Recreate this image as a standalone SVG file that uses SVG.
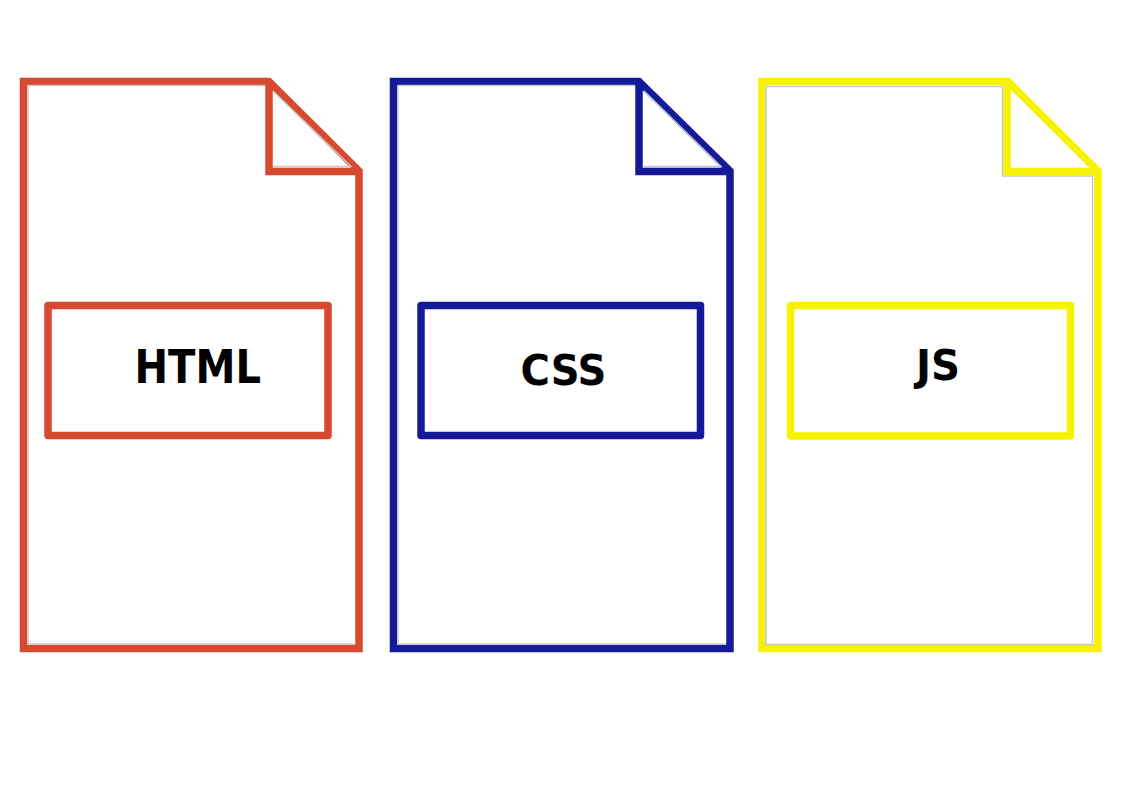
<svg xmlns="http://www.w3.org/2000/svg" width="1123" height="794" viewBox="0 0 1123 794">
<style>
.g{fill:none;stroke:#c8c8c8;stroke-width:1.5}
.o{fill:#fff;stroke-width:7.500;stroke-linejoin:miter}
.f{fill:none;stroke-width:7.500;stroke-linejoin:miter}
.l{fill:none;stroke-width:7.500;stroke-linejoin:round}
.t{font-family:"DejaVu Sans",sans-serif;font-stretch:condensed;font-weight:700;font-size:46px;fill:#000}
.red{stroke:#d84a2f}.blue{stroke:#151a9a}.yel{stroke:#f7f300}
</style>
<rect width="1123" height="794" fill="#fff"/>
<g id="html-file">
<path class="o red" d="M23.500 81.500H269L359 171V648.500H23.500Z"/>
<path class="g" d="M28 85.500H265M28 85.500V644H355M273 91L351 166.500H273"/>
<path class="f red" d="M269 81.500V171.500H359"/>
<rect class="l red" x="48" y="305.500" width="280" height="130"/>
<text class="t" x="134.500" y="383" textLength="126.500" lengthAdjust="spacingAndGlyphs">HTML</text>
</g>
<g id="css-file">
<path class="o blue" d="M393.500 81.500H639L730 171V648.500H393.500Z"/>
<path class="g" d="M398 85.500H635M398 85.500V644H726M644 91L721 166.500H644"/>
<path class="f blue" d="M639 81.500V171.500H730"/>
<rect class="l blue" x="421" y="305.500" width="279.500" height="130"/>
<text class="t" style="font-size:43px" x="520.500" y="385" textLength="86" lengthAdjust="spacingAndGlyphs">CSS</text>
</g>
<g id="js-file">
<path class="o yel" d="M762 81.500H1008L1098 171V648.500H762Z"/>
<path class="g" d="M766 86.500H1002.500V176H1092.500V644.500H766Z"/>
<path class="f yel" d="M1007 81.500V171.500H1098"/>
<rect class="l yel" x="790.500" y="305.500" width="280" height="130.500"/>
<text class="t" style="font-size:42px" x="916" y="380" textLength="44" lengthAdjust="spacingAndGlyphs">JS</text>
</g>
</svg>
